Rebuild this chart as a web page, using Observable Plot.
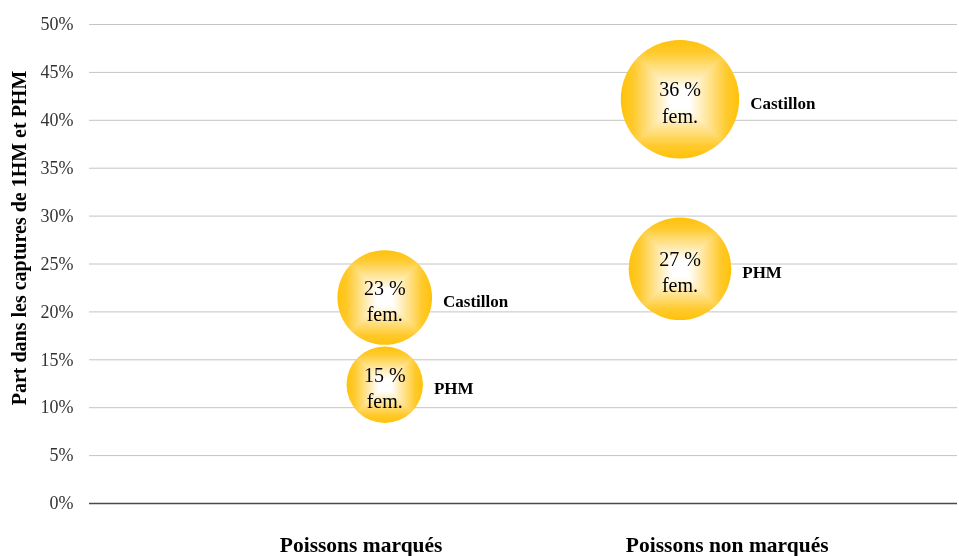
<!DOCTYPE html>
<html>
<head>
<meta charset="utf-8">
<script src="https://cdn.jsdelivr.net/npm/d3@7"></script>
<script src="https://cdn.jsdelivr.net/npm/@observablehq/plot@0.6"></script>
<style>
  html, body { margin: 0; padding: 0; background: #fff; }
</style>
</head>
<body>
<div id="chart"></div>
<script>
// Categories (x axis) and their bubble / label positions on a linear 0–3 scale
const categories = ["Poissons marqués", "Poissons non marqués"];
const categoryX = [1, 2];
const categoryLabelX = [0.92, 2.16];
// Sites (series)
const sites = ["Castillon", "PHM"];
// Share of 1HM+PHM catches (%) per category
const castillonShare = [21.5, 42.2];
const phmShare = [12.4, 24.5];
// Percent females (bubble size)
const castillonFem = [23, 36];
const phmFem = [15, 27];
// Y ticks
const yTicks = [0, 5, 10, 15, 20, 25, 30, 35, 40, 45, 50];

const data = [];
categories.forEach((c, i) => {
  data.push({category: c, x: categoryX[i], site: sites[0], share: castillonShare[i], fem: castillonFem[i]});
  data.push({category: c, x: categoryX[i], site: sites[1], share: phmShare[i], fem: phmFem[i]});
});

const rFallback = d3.scaleSqrt([0, 36], [0, 59.2]);

function defsMark() {
  const defs = d3.create("svg:defs");
  const stops = [[0, "#FFC20A"], [0.1, "#FFC92A"], [0.42, "#FFFFFF"], [0.58, "#FFFFFF"], [0.9, "#FFC92A"], [1, "#FFC20A"]];
  const gh = defs.append("linearGradient").attr("id", "gradH").attr("x1", 0).attr("x2", 1).attr("y1", 0).attr("y2", 0);
  const gv = defs.append("linearGradient").attr("id", "gradV").attr("x1", 0).attr("x2", 0).attr("y1", 0).attr("y2", 1);
  for (const g of [gh, gv]) {
    for (const [o, c] of stops) g.append("stop").attr("offset", o).attr("stop-color", c);
  }
  return defs.node();
}

const chart = Plot.plot({
  width: 959,
  height: 556,
  marginLeft: 89,
  marginRight: 2,
  marginTop: 24,
  marginBottom: 53,
  style: {fontFamily: "'Liberation Serif', 'Times New Roman', serif", background: "#fff", color: "#000"},
  x: {domain: [0, 2.94]},
  y: {domain: [0, 50]},
  r: {domain: [0, 36], range: [0, 59.2]},
  marks: [
    defsMark,
    Plot.gridY(yTicks, {stroke: "#c4c4c4", strokeOpacity: 1, strokeWidth: 1}),
    Plot.ruleY([0], {stroke: "#4a4a4a", strokeWidth: 1.3}),
    Plot.axisY({
      ticks: yTicks,
      tickFormat: d => d + "%",
      tickSize: 0,
      tickPadding: 16,
      fontSize: 18,
      fill: "#333",
      label: null
    }),
    Plot.text(["Part dans les captures de 1HM et PHM"], {
      frameAnchor: "left",
      textAnchor: "middle",
      rotate: -90,
      dx: -70,
      dy: -26,
      fontSize: 20,
      fontWeight: "bold",
      fill: "#000"
    }),
    Plot.axisX({
      ticks: categoryLabelX,
      tickFormat: (d, i) => categories[i],
      tickSize: 0,
      tickPadding: 33,
      fontSize: 21.5,
      fontWeight: "bold",
      fill: "#000",
      label: null
    }),
    Plot.dot(data, {x: "x", y: "share", r: "fem", fill: "url(#gradH)", stroke: "none"}),
    Plot.dot(data, {x: "x", y: "share", r: "fem", fill: "url(#gradV)", stroke: "none", mixBlendMode: "darken"}),
    Plot.text(data, {
      x: "x", y: "share",
      text: d => `${d.fem} %\nfem.`,
      fontSize: 20,
      lineHeight: 1.32,
      dy: 2,
      fill: "#000"
    }),
    Plot.text(data, {
      x: "x", y: "share",
      text: "site",
      textAnchor: "start",
      fontSize: 17,
      fontWeight: "bold",
      fill: "#000",
      dy: 4,
      render(index, scales, values, dimensions, context, next) {
        const rs = scales.r || rFallback;
        const X = Float64Array.from(values.x, (v, i) => v + rs(data[i].fem) + 11);
        return next(index, scales, {...values, x: X}, dimensions, context);
      }
    })
  ]
});

document.getElementById("chart").appendChild(chart);
</script>
</body>
</html>
